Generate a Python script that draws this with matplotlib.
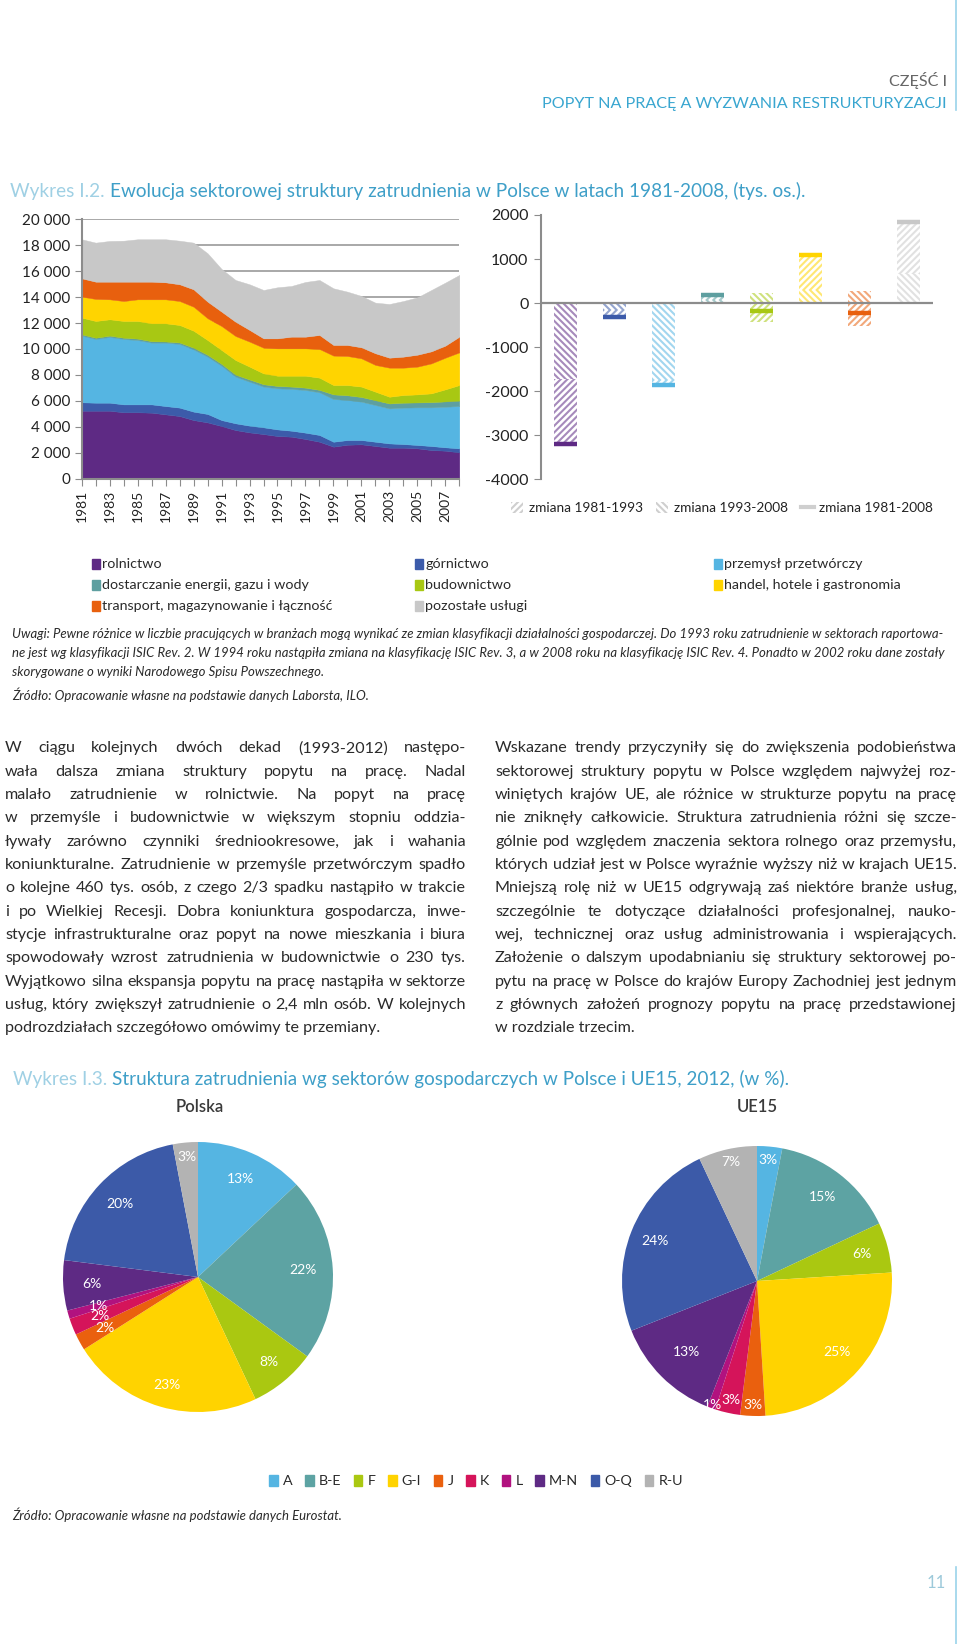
import matplotlib
matplotlib.use("Agg")
import matplotlib.pyplot as plt
import numpy as np
from matplotlib import font_manager
from matplotlib.lines import Line2D
from matplotlib.patches import Patch, Rectangle
from matplotlib.ticker import FuncFormatter

W, H = 960, 1644

# ---------------------------------------------------------------------------
# Wykres I.2 - employment by sector 1981-2008 (thousand persons).
# Values are the upper edge of each stacked band (mln).
# ---------------------------------------------------------------------------
years = np.arange(1981, 2009)
edge_rolnictwo = [5.24, 5.24, 5.24, 5.12, 5.12, 5.09, 4.96, 4.83, 4.52, 4.34, 4.06, 3.75, 3.57, 3.44,
                  3.29, 3.24, 3.06, 2.85, 2.47, 2.62, 2.65, 2.52, 2.39, 2.39, 2.34, 2.21, 2.16, 2.03]
edge_gornictwo = [5.89, 5.86, 5.86, 5.73, 5.73, 5.73, 5.60, 5.48, 5.17, 4.99, 4.52, 4.27, 4.09, 3.96,
                  3.80, 3.70, 3.55, 3.37, 2.85, 2.98, 2.98, 2.85, 2.72, 2.67, 2.60, 2.52, 2.42, 2.34]
edge_przemysl = [11.03, 10.77, 10.93, 10.77, 10.69, 10.49, 10.49, 10.39, 9.97, 9.41, 8.71, 7.87, 7.48, 7.10,
                 6.97, 6.92, 6.84, 6.66, 6.14, 6.07, 5.94, 5.68, 5.42, 5.48, 5.50, 5.50, 5.55, 5.60]
edge_energia = [11.13, 10.87, 11.03, 10.87, 10.80, 10.60, 10.58, 10.50, 10.10, 9.55, 8.85, 8.02, 7.65, 7.28,
                7.15, 7.10, 7.02, 6.85, 6.50, 6.43, 6.30, 6.05, 5.80, 5.86, 5.88, 5.90, 5.96, 6.02]
edge_budownictwo = [12.42, 12.16, 12.29, 12.16, 12.16, 11.98, 11.98, 11.85, 11.41, 10.69, 9.92, 9.15, 8.64, 8.12,
                    7.94, 7.94, 7.94, 7.79, 7.22, 7.22, 7.10, 6.71, 6.32, 6.45, 6.50, 6.58, 6.89, 7.22]
edge_handel = [14.04, 13.86, 13.83, 13.70, 13.83, 13.83, 13.83, 13.70, 13.26, 12.37, 11.77, 11.00, 10.57, 10.10,
               10.05, 10.05, 10.05, 10.00, 9.49, 9.46, 9.28, 8.77, 8.56, 8.56, 8.64, 8.89, 9.33, 9.74]
edge_transport = [15.45, 15.19, 15.19, 15.19, 15.19, 15.19, 15.14, 14.99, 14.60, 13.65, 12.88, 12.10, 11.47, 10.82,
                  10.82, 10.95, 10.95, 11.08, 10.31, 10.31, 10.13, 9.67, 9.33, 9.41, 9.56, 9.82, 10.26, 10.95]
edge_pozostale = [18.46, 18.20, 18.33, 18.35, 18.46, 18.46, 18.46, 18.35, 18.20, 17.38, 16.17, 15.32, 14.99, 14.55,
                  14.76, 14.86, 15.17, 15.32, 14.68, 14.42, 14.09, 13.57, 13.47, 13.70, 13.98, 14.55, 15.12, 15.71]

sector_names = ["rolnictwo", "górnictwo", "przemysł przetwórczy", "dostarczanie energii, gazu i wody",
                "budownictwo", "handel, hotele i gastronomia", "transport, magazynowanie i łączność",
                "pozostałe usługi"]
sector_colors = ["#5E2A84", "#3C5BAA", "#55B5E2", "#5E9FA0", "#A8C813", "#FFD400", "#E8600E", "#C8C8C8"]

# change in employment per sector (thousand persons)
zm_1993_2008 = [-1720, -150, -1750, 60, 220, 290, 280, 670]
zm_1981_1993 = [-1480, -150, -110, 130, -420, 800, -520, 1170]
zm_1981_2008 = [-3200, -310, -1860, 190, -170, 1100, -220, 1840]

# ---------------------------------------------------------------------------
# Wykres I.3 - structure of employment 2012 (%)
# ---------------------------------------------------------------------------
pie_labels = ["A", "B-E", "F", "G-I", "J", "K", "L", "M-N", "O-Q", "R-U"]
pie_colors = ["#55B5E2", "#5DA3A3", "#AAC811", "#FFD300", "#EA600E", "#D5145A", "#B1127F",
              "#5E2A84", "#3C5AA8", "#B3B3B3"]
pie_polska = [13, 22, 8, 23, 2, 2, 1, 6, 20, 3]
pie_ue15 = [3, 15, 6, 25, 3, 3, 1, 13, 24, 7]
# radial position of the percentage labels (fraction of radius)
polska_label_r = [0.79, 0.78, 0.82, 0.83, 0.79, 0.78, 0.77, 0.79, 0.79, 0.89]
ue15_label_r = [0.90, 0.79, 0.80, 0.79, 0.92, 0.90, 0.98, 0.74, 0.81, 0.90]

# ---------------------------------------------------------------------------
# page text
# ---------------------------------------------------------------------------
left_lines = [
    "W ciągu kolejnych dwóch dekad (1993-2012) następo-",
    "wała dalsza zmiana struktury popytu na pracę. Nadal",
    "malało zatrudnienie w rolnictwie. Na popyt na pracę",
    "w przemyśle i budownictwie w większym stopniu oddzia-",
    "ływały zarówno czynniki średniookresowe, jak i wahania",
    "koniunkturalne. Zatrudnienie w przemyśle przetwórczym spadło",
    "o kolejne 460 tys. osób, z czego 2/3 spadku nastąpiło w trakcie",
    "i po Wielkiej Recesji. Dobra koniunktura gospodarcza, inwe-",
    "stycje infrastrukturalne oraz popyt na nowe mieszkania i biura",
    "spowodowały wzrost zatrudnienia w budownictwie o 230 tys.",
    "Wyjątkowo silna ekspansja popytu na pracę nastąpiła w sektorze",
    "usług, który zwiększył zatrudnienie o 2,4 mln osób. W kolejnych",
    "podrozdziałach szczegółowo omówimy te przemiany.",
]
right_lines = [
    "Wskazane trendy przyczyniły się do zwiększenia podobieństwa",
    "sektorowej struktury popytu w Polsce względem najwyżej roz-",
    "winiętych krajów UE, ale różnice w strukturze popytu na pracę",
    "nie zniknęły całkowicie. Struktura zatrudnienia różni się szcze-",
    "gólnie pod względem znaczenia sektora rolnego oraz przemysłu,",
    "których udział jest w Polsce wyraźnie wyższy niż w krajach UE15.",
    "Mniejszą rolę niż w UE15 odgrywają zaś niektóre branże usług,",
    "szczególnie te dotyczące działalności profesjonalnej, nauko-",
    "wej, technicznej oraz usług administrowania i wspierających.",
    "Założenie o dalszym upodabnianiu się struktury sektorowej po-",
    "pytu na pracę w Polsce do krajów Europy Zachodniej jest jednym",
    "z głównych założeń prognozy popytu na pracę przedstawionej",
    "w rozdziale trzecim.",
]
note_lines = [
    "Uwagi: Pewne różnice w liczbie pracujących w branżach mogą wynikać ze zmian klasyfikacji działalności "
    "gospodarczej. Do 1993 roku zatrudnienie w sektorach raportowa-",
    "ne jest wg klasyfikacji ISIC Rev. 2. W 1994 roku nastąpiła zmiana na klasyfikację ISIC Rev. 3, a w 2008 "
    "roku na klasyfikację ISIC Rev. 4. Ponadto w 2002 roku dane zostały",
    "skorygowane o wyniki Narodowego Spisu Powszechnego.",
]


def installed(name):
    try:
        font_manager.findfont(font_manager.FontProperties(family=name), fallback_to_default=False)
        return True
    except ValueError:
        return False


NARROW = "Liberation Sans Narrow" if installed("Liberation Sans Narrow") else "Lato"
plt.rcParams["font.family"] = ["Lato", "DejaVu Sans"]
plt.rcParams["hatch.linewidth"] = 1.5

BODY = "#2a2a2a"
GRAY_AX = "#8c8c8c"
TITLE_LIGHT = "#9FD0E4"
TITLE_BLUE = "#3E9FC8"

fig = plt.figure(figsize=(W / 100, H / 100), dpi=100)
renderer = fig.canvas.get_renderer()


def fx(x):
    return x / W


def fy(y):
    return 1 - y / H


def px_axes(left, top, right, bottom):
    return fig.add_axes([left / W, 1 - bottom / H, (right - left) / W, (bottom - top) / H])


def text_width(s, **kw):
    t = fig.text(0, 0, s, **kw)
    w = t.get_window_extent(renderer).width
    t.remove()
    return w


def fit_size(lines, width, **kw):
    widest = max(text_width(s, fontsize=10, **kw) for s in lines)
    return 10 * width / widest


def lighten(c, amount):
    rgb = np.array(matplotlib.colors.to_rgb(c))
    return tuple(1 - (1 - rgb) * amount)


def put_justified(lines, x0, x1, y0, step, size, **kw):
    for i, line in enumerate(lines):
        y = fy(y0 + i * step)
        if i == len(lines) - 1:
            fig.text(fx(x0), y, line, fontsize=size, va="baseline", **kw)
            continue
        words = line.split(" ")
        objs = [fig.text(fx(x0), y, w_, fontsize=size, va="baseline", **kw) for w_ in words]
        widths = [o.get_window_extent(renderer).width for o in objs]
        gap = (x1 - x0 - sum(widths)) / (len(words) - 1)
        x = x0
        for o, w_ in zip(objs, widths):
            o.set_x(fx(x))
            x += w_ + gap


def two_tone_title(x, y, first, rest, width):
    size = fit_size([first + rest], width)
    t = fig.text(fx(x), fy(y), first, fontsize=size, color=TITLE_LIGHT, va="baseline")
    w1 = t.get_window_extent(renderer).width
    fig.text(fx(x + w1), fy(y), rest, fontsize=size, color=TITLE_BLUE, va="baseline")


# --- page header ------------------------------------------------------------
hdr = "POPYT NA PRACĘ A WYZWANIA RESTRUKTURYZACJI"
hdr_size = fit_size([hdr], 401)
fig.text(fx(947), fy(86), "CZĘŚĆ I", ha="right", va="baseline", fontsize=hdr_size, color="#666666")
fig.text(fx(947), fy(108), hdr, ha="right", va="baseline", fontsize=hdr_size, color="#39A6D0")
fig.add_artist(Line2D([fx(956), fx(956)], [fy(0), fy(110)], color="#9AD3EA", lw=1.2))
fig.add_artist(Line2D([fx(956), fx(956)], [fy(1567), fy(1644)], color="#9AD3EA", lw=1.2))
fig.text(fx(946), fy(1588), "11", ha="right", va="baseline", fontsize=12, color="#9CC9DA")

two_tone_title(10, 197, "Wykres I.2. ",
               "Ewolucja sektorowej struktury zatrudnienia w Polsce w latach 1981-2008, (tys. os.).", 795)

# --- stacked area chart -----------------------------------------------------
edges = np.array([edge_rolnictwo, edge_gornictwo, edge_przemysl, edge_energia, edge_budownictwo,
                  edge_handel, edge_transport, edge_pozostale]) * 1000
layers = np.diff(np.vstack([np.zeros(len(years)), edges]), axis=0)

ax = px_axes(81.7, 219.3, 459.3, 478.7)
ax.stackplot(years, layers, colors=sector_colors, edgecolor="face", linewidth=0.3, zorder=2)
ax.set_xlim(1981, 2008)
ax.set_ylim(0, 20000)
ax.set_yticks(np.arange(0, 20001, 2000))
ax.yaxis.set_major_formatter(FuncFormatter(lambda v, p: f"{v:,.0f}".replace(",", " ")))
ax.set_xticks(years)
ax.set_xticklabels([str(y) if (y - 1981) % 2 == 0 else "" for y in years], rotation=90)
ax.yaxis.grid(True, color="#9a9a9a", lw=1.2, zorder=0)
ax.set_axisbelow(True)
for side in ["top", "right"]:
    ax.spines[side].set_visible(False)
for side in ["left", "bottom"]:
    ax.spines[side].set_color(GRAY_AX)
    ax.spines[side].set_linewidth(1.5)
    ax.spines[side].set_zorder(3)
ax.tick_params(axis="y", length=5, color=GRAY_AX, labelsize=11, labelcolor="#222222", pad=3)
ax.tick_params(axis="x", length=5, color=GRAY_AX, labelsize=10, labelcolor="#222222", pad=3)

# --- change bar chart -------------------------------------------------------
bx = px_axes(541, 215, 933, 479.3)
xpos = np.arange(len(sector_names))
light = [lighten(c, 0.55) for c in sector_colors]
zm93 = np.array(zm_1993_2008)
zm81 = np.array(zm_1981_1993)
bottom81 = np.where(np.sign(zm81) == np.sign(zm93), zm93, 0)
bx.bar(xpos, zm93, width=0.45, color="white", edgecolor=light, hatch="\\" * 5, linewidth=0, zorder=2)
bx.bar(xpos, zm81, bottom=bottom81, width=0.45, color="white", edgecolor=light, hatch="/" * 5,
       linewidth=0, zorder=2)
bx.hlines(zm_1981_2008, xpos - 0.225, xpos + 0.225, colors=sector_colors, lw=3.2, zorder=3)
bx.axhline(0, color=GRAY_AX, lw=1.6, zorder=4)
bx.set_xlim(-0.5, 7.5)
bx.set_ylim(-4000, 2000)
bx.set_yticks(np.arange(-4000, 2001, 1000))
bx.yaxis.set_major_formatter(FuncFormatter(lambda v, p: f"{v:.0f}"))
bx.set_xticks([])
for side in ["top", "right", "bottom"]:
    bx.spines[side].set_visible(False)
bx.spines["left"].set_color(GRAY_AX)
bx.spines["left"].set_linewidth(1.5)
bx.tick_params(axis="y", length=5, color=GRAY_AX, labelsize=11.5, labelcolor="#222222", pad=4)

bar_leg_size = fit_size(["zmiana 1981-1993"], 113)
bar_handles = [Patch(facecolor="white", edgecolor="#CFCFCF", hatch="/" * 5, linewidth=0),
               Patch(facecolor="white", edgecolor="#CFCFCF", hatch="\\" * 5, linewidth=0),
               Line2D([], [], color="#CFCFCF", lw=3)]
fig.legend(bar_handles, ["zmiana 1981-1993", "zmiana 1993-2008", "zmiana 1981-2008"],
           loc="center", bbox_to_anchor=(fx(722), fy(508)), ncol=3, frameon=False,
           fontsize=bar_leg_size, handlelength=0.9, handleheight=0.9, handletextpad=0.4,
           columnspacing=1.0, labelcolor="#222222")

# --- sector legend ----------------------------------------------------------
leg_size = fit_size(["transport, magazynowanie i łączność"], 229, family=NARROW)
leg_cols = [92, 415, 714]
leg_rows = [564, 585, 606]
for i, (name, c) in enumerate(zip(sector_names, sector_colors)):
    x = leg_cols[i % 3]
    y = leg_rows[i // 3]
    fig.add_artist(Rectangle((fx(x), fy(y + 5)), 8 / W, 10 / H, color=c, transform=fig.transFigure))
    fig.text(fx(x + 10), fy(y + 4), name, fontsize=leg_size, family=NARROW, color=BODY, va="baseline")

# --- notes ------------------------------------------------------------------
note_size = fit_size(note_lines[:1], 928, family=NARROW, style="italic")
for i, line in enumerate(note_lines):
    fig.text(fx(12), fy(638 + 19 * i), line, fontsize=note_size, family=NARROW, style="italic",
             color=BODY, va="baseline")
fig.text(fx(12), fy(700), "Źródło: Opracowanie własne na podstawie danych Laborsta, ILO.",
         fontsize=note_size, family=NARROW, style="italic", color=BODY, va="baseline")

# --- body text --------------------------------------------------------------
body_size = min(fit_size(left_lines[:-1], 461), fit_size(right_lines[:-1], 462))
put_justified(left_lines, 5, 466, 752.3, 23.33, body_size, color=BODY)
put_justified(right_lines, 495, 957, 752.3, 23.33, body_size, color=BODY)

# --- pies -------------------------------------------------------------------
two_tone_title(13, 1085, "Wykres I.3. ",
               "Struktura zatrudnienia wg sektorów gospodarczych w Polsce i UE15, 2012, (w %).", 773)


def draw_pie(ax, values, label_r):
    wedges = ax.pie(values, colors=pie_colors, startangle=90, counterclock=False,
                    wedgeprops=dict(linewidth=0))[0]
    for w_, v, r in zip(wedges, values, label_r):
        ang = np.deg2rad((w_.theta1 + w_.theta2) / 2)
        ax.text(r * np.cos(ang), r * np.sin(ang), f"{v}%", ha="center", va="center",
                color="white", fontsize=10)
    ax.set_xlim(-1, 1)
    ax.set_ylim(-1, 1)


pa = px_axes(63, 1142, 333, 1412)
draw_pie(pa, pie_polska, polska_label_r)
ua = px_axes(622, 1146, 892, 1416)
draw_pie(ua, pie_ue15, ue15_label_r)
fig.text(fx(200), fy(1107), "Polska", ha="center", va="center", fontsize=12, fontweight="semibold",
         color="#3a3a3a")
fig.text(fx(757), fy(1107), "UE15", ha="center", va="center", fontsize=12, fontweight="semibold",
         color="#3a3a3a")

fig.legend([Patch(color=c) for c in pie_colors], pie_labels, loc="center",
           bbox_to_anchor=(fx(476), fy(1481)), ncol=10, frameon=False,
           prop=dict(family=NARROW, size=leg_size), handlelength=0.6, handleheight=0.8,
           handletextpad=0.35, columnspacing=0.9, labelcolor=BODY)
fig.text(fx(12), fy(1520), "Źródło: Opracowanie własne na podstawie danych Eurostat.",
         fontsize=note_size, family=NARROW, style="italic", color=BODY, va="baseline")

fig.savefig("out.png", dpi=100, facecolor="white")
